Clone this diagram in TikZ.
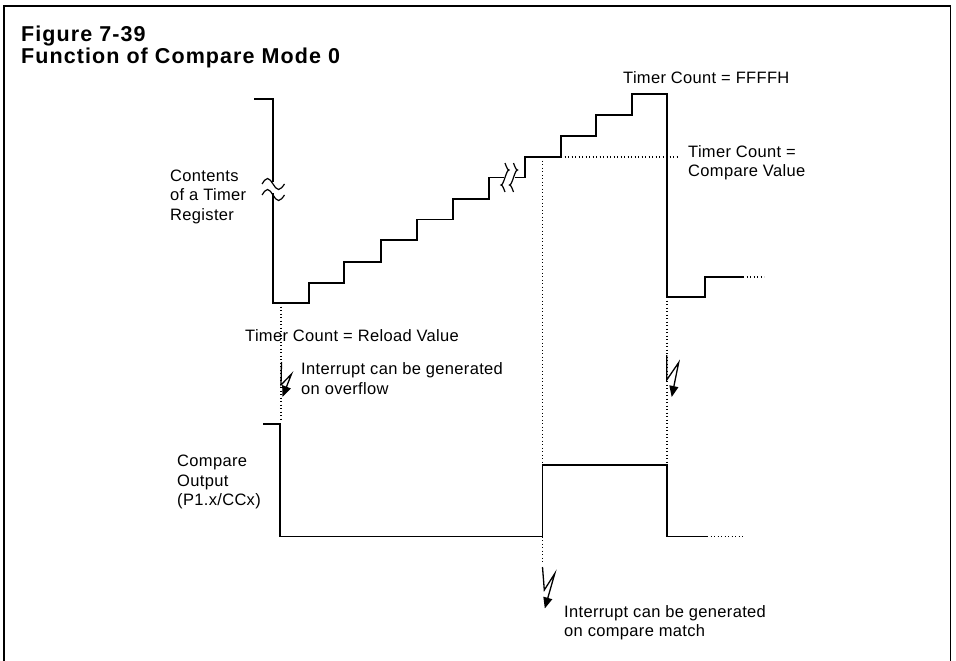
\documentclass[tikz,border=0pt]{standalone}
\usepackage{fontspec}
\setmainfont{Liberation Sans}[LetterSpace=2]
\newfontfamily\ttlfont{Liberation Sans}[LetterSpace=5]
\usepackage{tikz}
\usetikzlibrary{positioning,arrows.meta}

\begin{document}
\begin{tikzpicture}[
  x=1pt, y=-1pt,
  frame/.style={line width=1.4pt},
  wave/.style={line width=1.3pt, line join=miter},
  guide/.style={line width=1.1pt, dash pattern=on 0.9pt off 2.6pt},
  brk/.style={line width=1.2pt},
  bolt/.style={-{Triangle[length=11pt,width=9pt]}, line width=1.3pt},
  lbl/.style={
      inner sep=0pt,
      anchor=base west,
      font=\fontsize{16.5}{19.5}\selectfont
  },
  blk/.style={
      lbl,
      anchor=north west,
      align=left
  },
  ttl/.style={
      inner sep=0pt,
      anchor=north west,
      align=left,
      font=\ttlfont\bfseries\fontsize{21.5}{22}\selectfont
  }
]
\useasboundingbox (0,0) rectangle (956,661);

\draw[frame] (4,661) -- (4,6) -- (950.5,6) -- (950.5,661);

\node[ttl] (title) at (21,25.5) {Figure 7-39\\Function of Compare Mode 0};

\node[blk] (reg) at (170,169.5) {Contents\\of a Timer\\Register};
\node[lbl] (ffff) at (623,83.5) {Timer Count = FFFFH};
\node[blk] (cmpv) at (688,145) {Timer Count =\\Compare Value};
\node[lbl] (rldv) at (245,341.7) {Timer Count = Reload Value};
\node[blk] (ovfl) at (301,362.5) {Interrupt can be generated\\on overflow};
\node[blk] (cout) at (177,455) {Compare\\Output\\(P1.x/CCx)};
\node[blk] (cmpm) at (564,605) {Interrupt can be generated\\on compare match};

% timer register
\coordinate (rld) at (281,303);
\coordinate (cmp) at (542.5,157);
\coordinate (top) at (667,94);

\draw[wave] (254,99) -- (273,99) -- (273,181.5);
\draw[wave] (273,193) -- (273,303) -- (309,303) -- (309,283) -- (344,283)
  -- (344,262) -- (381,262) -- (381,240) -- (417,240) -- (417,219.5)
  -- (453,219.5) -- (453,199) -- (489,199) -- (489,177.5) -- (504,177.5);
\draw[wave] (515,177.5) -- (525,177.5) -- (525,157) -- (561,157) -- (561,136)
  -- (596,136) -- (596,115) -- (632,115) -- (632,94) -- (top)
  -- (667,297) -- (705,297) -- (705,277) -- (743,277);
\draw[guide] (743,277) -- (764,277);

% break marks
\draw[brk] (262,184) sin (267.5,178.5) cos (273,184) sin (278.5,189.5) cos (284.5,184);
\draw[brk] (262,195) sin (267.5,189.5) cos (273,195) sin (278.5,200.5) cos (284.5,195);
\draw[brk] (505,163) sin (509,170) cos (505,177.5) sin (501,185) cos (505,192);
\draw[brk] (513.5,163) sin (517.5,170) cos (513.5,177.5) sin (509.5,185) cos (513.5,192);

% compare output
\draw[wave] (263,424) -- (280,424) -- (280,536.5) -- (542.5,536.5) -- (542.5,465)
  -- (667,465) -- (667,536.5) -- (707,536.5);
\draw[guide] (707,536.5) -- (744,536.5);

% guides
\draw[guide] (561,157) -- (677,157);
\draw[guide] (rld) -- (281,421);
\draw[guide] (cmp) -- (542.5,465);
\draw[guide] (542.5,536.5) -- (542.5,563);
\draw[guide] (667,297) -- (667,465);

% interrupts
\coordinate (b1) at (281.5,362);
\coordinate (b2) at (666.7,355);
\coordinate (b3) at (542.5,567);
\draw[bolt] (b1) -- ++(-0.5,23) -- ++(10.5,-11) -- ++(-9,23);
\draw[bolt] (b2) -- ++(0,25) -- ++(12,-17.5) -- ++(-7,34.5);
\draw[bolt] (b3) -- ++(1.8,23) -- ++(10.5,-16.5) -- ++(-10,35);

\end{tikzpicture}
\end{document}
